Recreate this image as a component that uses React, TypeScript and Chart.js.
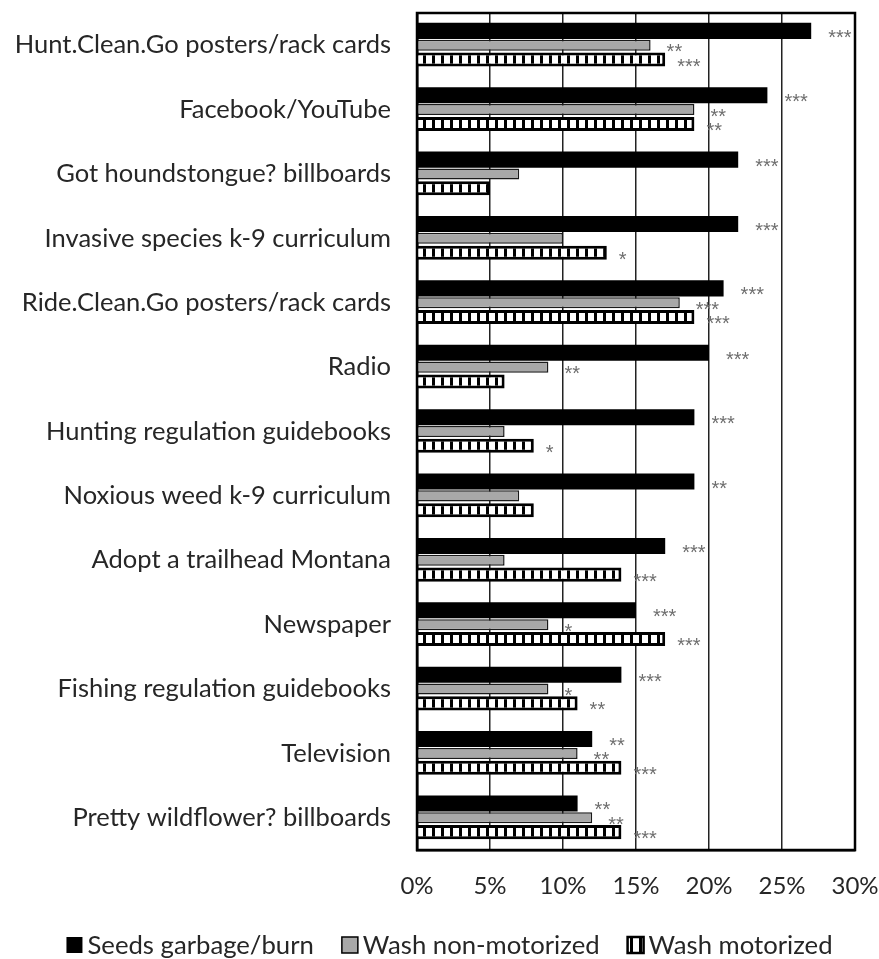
import { useEffect, useRef } from "react";
import { Chart, registerables } from "chart.js";

Chart.register(...registerables);

const CATEGORIES = [
  "Hunt.Clean.Go posters/rack cards",
  "Facebook/YouTube",
  "Got houndstongue? billboards",
  "Invasive species k-9 curriculum",
  "Ride.Clean.Go posters/rack cards",
  "Radio",
  "Hunting regulation guidebooks",
  "Noxious weed k-9 curriculum",
  "Adopt a trailhead Montana",
  "Newspaper",
  "Fishing regulation guidebooks",
  "Television",
  "Pretty wildflower? billboards",
];

const SERIES_LABELS = ["Seeds garbage/burn", "Wash non-motorized", "Wash motorized"];

const SEEDS_GARBAGE = [27, 24, 22, 22, 21, 20, 19, 19, 17, 15, 14, 12, 11];
const WASH_NON_MOTORIZED = [16, 19, 7, 10, 18, 9, 6, 7, 6, 9, 9, 11, 12];
const WASH_MOTORIZED = [17, 19, 5, 13, 19, 6, 8, 8, 14, 17, 11, 14, 14];

const STARS_SEEDS = ["***", "***", "***", "***", "***", "***", "***", "**", "***", "***", "***", "**", "**"];
const STARS_NON_MOTORIZED = ["**", "**", "", "", "***", "**", "", "", "", "*", "*", "**", "**"];
const STARS_MOTORIZED = ["***", "**", "", "*", "***", "", "*", "", "***", "***", "**", "***", "***"];

const X_MIN = 0;
const X_MAX = 30;
const X_STEP = 5;

const FONT = "Lato";
const TEXT_COLOR = "#262626";

export default function App() {
  const canvasRef = useRef<HTMLCanvasElement | null>(null);

  useEffect(() => {
    const canvas = canvasRef.current;
    if (!canvas) return;
    const ctx = canvas.getContext("2d")!;

    // hatched pattern: vertical black stripes on white
    const tile = document.createElement("canvas");
    tile.width = 9;
    tile.height = 16;
    const tg = tile.getContext("2d")!;
    tg.fillStyle = "#ffffff";
    tg.fillRect(0, 0, 9, 16);
    tg.fillStyle = "#000000";
    tg.fillRect(0, 0, 3, 16);
    const hatch = ctx.createPattern(tile, "repeat")!;

    const starSets = [STARS_SEEDS, STARS_NON_MOTORIZED, STARS_MOTORIZED];
    const starOffsets = [17, 16, 12];

    const starsPlugin = {
      id: "stars",
      afterDatasetsDraw(chart: any) {
        const c = chart.ctx;
        c.save();
        c.font = "20px 'Liberation Sans'";
        c.fillStyle = "#6e6e6e";
        c.textAlign = "left";
        c.textBaseline = "alphabetic";
        chart.data.datasets.forEach((_: any, i: number) => {
          const meta = chart.getDatasetMeta(i);
          meta.data.forEach((el: any, j: number) => {
            const s = starSets[i][j];
            if (!s) return;
            c.fillText(s, el.x + starOffsets[i], el.y + 13);
          });
        });
        c.restore();
      },
    };

    const frameAndLegendPlugin = {
      id: "frameLegend",
      afterDraw(chart: any) {
        const c = chart.ctx;
        const a = chart.chartArea;
        c.save();
        c.strokeStyle = "#000";
        c.lineWidth = 2.5;
        c.strokeRect(a.left, a.top, a.right - a.left, a.bottom - a.top);

        // legend
        c.font = `25.7px ${FONT}`;
        c.textBaseline = "middle";
        c.textAlign = "left";
        const box = 16;
        const gap = 5;
        const spacing = 28;
        const ds = chart.data.datasets;
        const widths = ds.map((d: any) => box + gap + c.measureText(d.label).width);
        const total = widths.reduce((s: number, w: number) => s + w, 0) + spacing * (ds.length - 1);
        let x = chart.width / 2 + 10 - total / 2;
        const y = 945;
        ds.forEach((d: any, i: number) => {
          c.fillStyle = d.backgroundColor;
          c.fillRect(x, y - box / 2, box, box);
          if (i > 0) {
            c.lineWidth = i === 2 ? 2.5 : 1.5;
            c.strokeStyle = "#000";
            c.strokeRect(x, y - box / 2, box, box);
          }
          c.fillStyle = TEXT_COLOR;
          c.fillText(d.label, x + box + gap, y + 1);
          x += widths[i] + spacing;
        });
        c.restore();
      },
    };

    const chart = new Chart(ctx, {
      type: "bar",
      data: {
        labels: CATEGORIES,
        datasets: [
          {
            label: SERIES_LABELS[0],
            data: SEEDS_GARBAGE,
            backgroundColor: "#000000",
            borderWidth: 0,
            barPercentage: 1.12,
            categoryPercentage: 0.668,
          },
          {
            label: SERIES_LABELS[1],
            data: WASH_NON_MOTORIZED,
            backgroundColor: "#a8a8a8",
            borderColor: "#1a1a1a",
            borderWidth: 1.5,
            barPercentage: 0.77,
            categoryPercentage: 0.668,
          },
          {
            label: SERIES_LABELS[2],
            data: WASH_MOTORIZED,
            backgroundColor: hatch as any,
            borderColor: "#000000",
            borderWidth: 3,
            barPercentage: 0.98,
            categoryPercentage: 0.668,
          },
        ],
      },
      options: {
        indexAxis: "y",
        responsive: false,
        animation: false,
        layout: { padding: { top: 13, right: 24, left: 0, bottom: 0 } },
        plugins: {
          legend: { display: false },
          tooltip: { enabled: false },
        },
        scales: {
          x: {
            min: X_MIN,
            max: X_MAX,
            grid: { color: "#222", lineWidth: 1.5, drawTicks: false },
            border: { color: "#000", width: 2.5 },
            ticks: {
              stepSize: X_STEP,
              padding: 22,
              color: TEXT_COLOR,
              font: { family: FONT, size: 24 },
              callback: (v: any) => `${v}%`,
            },
            afterFit(scale: any) {
              scale.height = 959 - 850;
              scale.paddingLeft = 0;
              scale.paddingRight = 0;
            },
          },
          y: {
            grid: { display: false },
            border: { color: "#000", width: 2.5 },
            ticks: {
              padding: 18,
              color: TEXT_COLOR,
              font: { family: FONT, size: 25.5 },
            },
            afterFit(scale: any) {
              scale.width = 417;
              scale.paddingTop = 0;
              scale.paddingBottom = 0;
            },
          },
        },
      },
      plugins: [starsPlugin, frameAndLegendPlugin],
    });

    return () => chart.destroy();
  }, []);

  return (
    <div style={{ position: "fixed", left: 0, top: 0, width: 879, height: 959, background: "#fff" }}>
      <canvas ref={canvasRef} width={879} height={959} style={{ width: 879, height: 959 }} />
    </div>
  );
}
